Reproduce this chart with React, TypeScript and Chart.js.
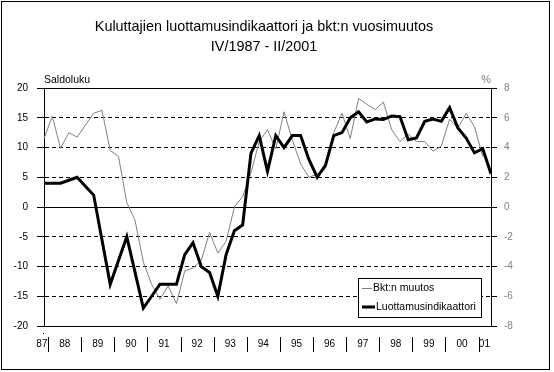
import { useEffect, useRef } from "react";
import { Chart, registerables } from "chart.js";

Chart.register(...registerables);

const FONT = "'Liberation Sans', Arial, Helvetica, sans-serif";

const titleLines = ["Kuluttajien luottamusindikaattori ja bkt:n vuosimuutos", "IV/1987 - II/2001"];
const leftAxisTitle = "Saldoluku";
const rightAxisTitle = "%";

const quarters = [
  "IV/87",
  "I/88", "II/88", "III/88", "IV/88",
  "I/89", "II/89", "III/89", "IV/89",
  "I/90", "II/90", "III/90", "IV/90",
  "I/91", "II/91", "III/91", "IV/91",
  "I/92", "II/92", "III/92", "IV/92",
  "I/93", "II/93", "III/93", "IV/93",
  "I/94", "II/94", "III/94", "IV/94",
  "I/95", "II/95", "III/95", "IV/95",
  "I/96", "II/96", "III/96", "IV/96",
  "I/97", "II/97", "III/97", "IV/97",
  "I/98", "II/98", "III/98", "IV/98",
  "I/99", "II/99", "III/99", "IV/99",
  "I/00", "II/00", "III/00", "IV/00",
  "I/01", "II/01",
];

const yearLabels = ["87", "88", "89", "90", "91", "92", "93", "94", "95", "96", "97", "98", "99", "00", "01"];

// Kuluttajien luottamusindikaattori (saldoluku, left axis)
const confidence = [
  4, 4, 4, 4.5, 5, 3.5, 2, -5.5, -13, -9,
  -5, -11, -17, -15, -13, -13, -13, -8, -6, -10,
  -11, -15, -8, -4, -3, 9, 12, 6, 12, 10,
  12, 12, 8, 5, 7, 12, 12.5, 15, 16, 14.3,
  14.8, 14.7, 15.3, 15.2, 11.3, 11.6, 14.4, 14.8, 14.4, 16.7,
  13.3, 11.6, 9.1, 9.8, 5.6,
];

// Bkt:n muutos (%, right axis)
const gdpChange = [
  4.6, 6.1, 3.95, 5.0, 4.7, 5.5, 6.3, 6.5, 3.8, 3.4,
  0.3, -0.9, -3.7, -5.2, -6.2, -5.3, -6.5, -4.3, -4.1, -3.6,
  -1.7, -3.1, -2.3, 0.0, 0.7, 2.3, 4.4, 5.2, 3.9, 6.4,
  4.5, 2.9, 2.0, 2.2, 2.6, 5.0, 6.3, 4.6, 7.3, 6.9,
  6.55, 7.05, 5.2, 4.4, 4.9, 4.4, 4.4, 3.75, 4.1, 5.9,
  5.3, 6.3, 5.4, 3.4, null,
];

const seriesLabels = ["Bkt:n muutos", "Luottamusindikaattori"];

function yearOf(q: string) {
  return q.split("/")[1];
}

// centre of each year's quarters on the index scale
function yearCentres(): number[] {
  const groups: number[][] = [];
  let last = "";
  quarters.forEach((q, i) => {
    const y = yearOf(q);
    if (y !== last) {
      groups.push([]);
      last = y;
    }
    groups[groups.length - 1].push(i);
  });
  return groups.map((g, k) => {
    const m = g.reduce((a, b) => a + b, 0) / g.length;
    if (k === 0) return m - 0.25;
    if (k === groups.length - 1) return m - 0.3;
    return m;
  });
}

function yearBoundaries(): number[] {
  const out: number[] = [];
  for (let i = 1; i < quarters.length; i++) {
    if (yearOf(quarters[i]) !== yearOf(quarters[i - 1])) out.push(i - 0.5);
  }
  return out;
}

export default function App() {
  const ref = useRef<HTMLCanvasElement>(null);

  useEffect(() => {
    const canvas = ref.current;
    if (!canvas) return;

    const decor = {
      id: "decor",
      afterDraw(chart: any) {
        const ctx = chart.ctx as CanvasRenderingContext2D;
        const ca = chart.chartArea;
        ctx.save();

        // outer frame
        ctx.strokeStyle = "#000";
        ctx.lineWidth = 1;
        ctx.strokeRect(1.5, 1.5, 548, 368);

        // axis titles
        ctx.font = `10.5px ${FONT}`;
        ctx.textBaseline = "alphabetic";
        ctx.fillStyle = "#000";
        ctx.textAlign = "left";
        ctx.fillText(leftAxisTitle, ca.left, ca.top - 5);
        ctx.fillStyle = "#808080";
        ctx.textAlign = "right";
        ctx.font = `11px ${FONT}`;
        ctx.fillText(rightAxisTitle, ca.right, ca.top - 5);

        // year separators
        const xs = chart.scales.xYear;
        ctx.strokeStyle = "#000";
        ctx.lineWidth = 1;
        ctx.beginPath();
        yearBoundaries().forEach((b) => {
          const px = Math.round(xs.getPixelForValue(b)) + 0.5;
          ctx.moveTo(px, ca.bottom + 11);
          ctx.lineTo(px, ca.bottom + 26);
        });
        ctx.stroke();
        ctx.fillStyle = "#000";
        ctx.fillRect(ca.left - 1, ca.bottom + 7, 1, 1);

        // legend
        const lx = 358, ly = 278, lw = 123, lh = 39;
        ctx.fillStyle = "#fff";
        ctx.fillRect(lx, ly, lw + 1, lh + 1);
        ctx.strokeStyle = "#000";
        ctx.lineWidth = 1;
        ctx.strokeRect(lx + 0.5, ly + 0.5, lw, lh);
        const rows = [
          { ds: chart.data.datasets[0], y: 288.5, len: 10 },
          { ds: chart.data.datasets[1], y: 307, len: 13 },
        ];
        ctx.font = `10.5px ${FONT}`;
        ctx.textAlign = "left";
        ctx.textBaseline = "middle";
        rows.forEach((r) => {
          ctx.strokeStyle = r.ds.borderColor;
          ctx.lineWidth = r.ds.borderWidth;
          ctx.beginPath();
          ctx.moveTo(lx + 4, r.y);
          ctx.lineTo(lx + 4 + r.len, r.y);
          ctx.stroke();
          ctx.fillStyle = "#000";
          ctx.fillText(r.ds.label, lx + 5 + r.len, Math.floor(r.y));
        });
        ctx.restore();
      },
    };

    const centres = yearCentres();

    const chart = new Chart(canvas, {
      type: "line",
      data: {
        labels: quarters,
        datasets: [
          {
            label: seriesLabels[0],
            data: gdpChange,
            borderColor: "#808080",
            borderWidth: 1,
            pointRadius: 0,
            tension: 0,
            yAxisID: "y1",
            xAxisID: "x",
            order: 1,
            spanGaps: false,
          },
          {
            label: seriesLabels[1],
            data: confidence,
            borderColor: "#000000",
            borderWidth: 3,
            pointRadius: 0,
            tension: 0,
            yAxisID: "y",
            xAxisID: "x",
            order: 0,
          },
        ],
      },
      plugins: [decor],
      options: {
        responsive: false,
        animation: false,
        devicePixelRatio: 1,
        events: [],
        layout: { padding: { left: 0, right: 26, top: 0, bottom: 0 } },
        plugins: {
          legend: { display: false },
          tooltip: { enabled: false },
          title: {
            display: true,
            text: titleLines,
            color: "#000",
            font: { family: FONT, size: 14.4, weight: "normal", lineHeight: 20 / 14.4 },
            padding: { top: 17, bottom: 31 },
          },
        },
        scales: {
          x: { type: "category", display: false, offset: false },
          xYear: {
            type: "linear",
            position: "bottom",
            min: 0,
            max: quarters.length - 1,
            afterBuildTicks: (scale: any) => {
              scale.ticks = centres.map((v) => ({ value: v }));
            },
            afterFit: (scale: any) => {
              scale.height = 46;
            },
            grid: { display: false, drawTicks: false },
            border: { display: false },
            ticks: {
              autoSkip: false,
              maxRotation: 0,
              padding: 12,
              color: "#000",
              font: { family: FONT, size: 10 },
              callback: (_v: any, i: number) => yearLabels[i],
            },
          },
          y: {
            position: "left",
            min: -20,
            max: 20,
            afterFit: (scale: any) => {
              scale.width = 44;
            },
            ticks: { stepSize: 5, padding: 9, color: "#000", font: { family: FONT, size: 10 } },
            grid: { color: "#000", lineWidth: 1, tickLength: 7, tickColor: "#000" },
            border: {
              display: true,
              color: "#000",
              width: 1,
              dash: (ctx: any) => {
                const t = ctx.tick;
                if (!t) return [];
                return t.value === 0 || Math.abs(t.value) === 20 ? [] : [4, 3];
              },
            },
          },
          y1: {
            position: "right",
            min: -8,
            max: 8,
            afterFit: (scale: any) => {
              scale.width = 37;
            },
            ticks: { stepSize: 2, padding: 7, color: "#808080", font: { family: FONT, size: 10 } },
            grid: { drawOnChartArea: false, tickLength: 6, tickColor: "#000", color: "#000" },
            border: { display: true, color: "#000", width: 1 },
          },
        },
      },
    } as any);

    return () => chart.destroy();
  }, []);

  return (
    <div style={{ position: "absolute", left: 0, top: 0, width: 554, height: 372, background: "#fff" }}>
      <canvas ref={ref} width={554} height={372} style={{ display: "block", width: 554, height: 372 }} />
    </div>
  );
}
